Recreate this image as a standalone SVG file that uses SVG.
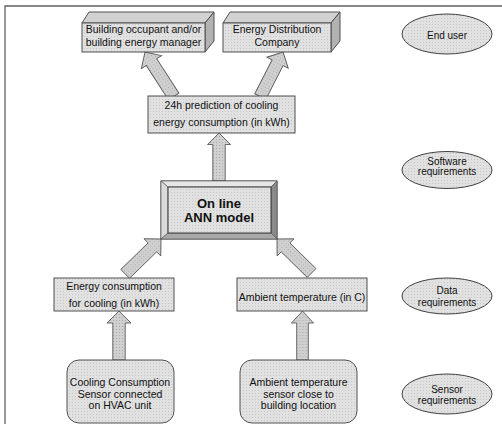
<svg xmlns="http://www.w3.org/2000/svg" width="502" height="424" viewBox="0 0 502 424">
  <style>
    text { font-family: "Liberation Sans", Arial, sans-serif; font-size: 10.5px; fill: #111; text-anchor: middle; }
    .small { font-size: 10px; }
    .bold { font-size: 13px; font-weight: bold; }
    .box { fill: url(#grain); stroke: #505050; stroke-width: 1; }
    .top { fill: #d2d2d2; stroke: #505050; stroke-width: 1; stroke-linejoin: round; }
    .side { fill: #b2b2b2; stroke: #505050; stroke-width: 1; stroke-linejoin: round; }
    .oval { fill: url(#grain); stroke: #404040; stroke-width: 1; }
    .arrow { fill: url(#grain-dark); stroke: #5a5a5a; stroke-width: 0.9; stroke-linejoin: miter; }
    .frame { stroke: #606060; stroke-width: 1.3; fill: none; }
  </style>
  <defs>
    <!-- fine dotted texture used for the shaded faces -->
    <pattern id="grain" width="3" height="3" patternUnits="userSpaceOnUse">
      <rect width="3" height="3" fill="#e1e1e1"/>
      <rect width="1" height="1" fill="#c6c6c6"/>
    </pattern>
    <pattern id="grain-dark" width="3" height="3" patternUnits="userSpaceOnUse">
      <rect width="3" height="3" fill="#d0d0d0"/>
      <rect width="1" height="1" fill="#ababab"/>
    </pattern>
  </defs>

  <rect width="502" height="424" fill="#ffffff"/>
  <!-- page frame -->
  <path class="frame" d="M5,424 V6 H502"/>

  <!-- block arrows: tip at local origin, pointing up -->
  <g id="connectors">
    <polygon class="arrow" transform="translate(145,52) rotate(-32.8)" points="0,0 12,12 6.2,12 6.2,53 -6.2,53 -6.2,12 -12,12"/>
    <polygon class="arrow" transform="translate(283,52) rotate(27.1)" points="0,0 12,12 6.2,12 6.2,50 -6.2,50 -6.2,12 -12,12"/>
    <polygon class="arrow" transform="translate(219,133)" points="0,0 11.5,11.5 6.2,11.5 6.2,48 -6.2,48 -6.2,11.5 -11.5,11.5"/>
    <polygon class="arrow" transform="translate(161,239) rotate(45.8)" points="0,0 12,12 6.2,12 6.2,50 -6.2,50 -6.2,12 -12,12"/>
    <polygon class="arrow" transform="translate(277,239) rotate(-45.5)" points="0,0 12,12 6.2,12 6.2,48.5 -6.2,48.5 -6.2,12 -12,12"/>
    <polygon class="arrow" transform="translate(119,311)" points="0,0 12,12 6.2,12 6.2,49 -6.2,49 -6.2,12 -12,12"/>
    <polygon class="arrow" transform="translate(302.5,311)" points="0,0 11,12 5.8,12 5.8,49 -5.8,49 -5.8,12 -11,12"/>
  </g>

  <!-- end users -->
  <g id="occupant">
    <polygon class="top" points="82,23 89,12 214,12 205,23"/>
    <polygon class="side" points="205,23 214,12 214,41 205,52"/>
    <rect class="box" x="82" y="23" width="123" height="29"/>
    <text x="143.5" y="32.5">Building occupant and/or</text>
    <text x="143.5" y="45.5">building energy manager</text>
  </g>
  <g id="utility">
    <polygon class="top" points="223,23 230,12 340,12 331,23"/>
    <polygon class="side" points="331,23 340,12 340,41 331,52"/>
    <rect class="box" x="223" y="23" width="108" height="29"/>
    <text x="277" y="32.5">Energy Distribution</text>
    <text x="277" y="45.5">Company</text>
  </g>

  <!-- model output -->
  <g id="prediction">
    <rect class="box" x="148" y="96" width="147" height="37"/>
    <text x="221.5" y="109">24h prediction of cooling</text>
    <text x="221.5" y="125.5">energy consumption  (in kWh)</text>
  </g>

  <!-- bevelled model block -->
  <g id="ann-model">
    <rect x="161" y="181" width="116" height="58" fill="#cfcfcf" stroke="#3a3a3a" stroke-width="1"/>
    <polygon points="161,181 277,181 271,187 168,187" fill="#e6e6e6" stroke="#505050" stroke-width="0.6"/>
    <polygon points="161,181 168,187 168,233 161,239" fill="#d9d9d9" stroke="#505050" stroke-width="0.6"/>
    <polygon points="277,181 271,187 271,233 277,239" fill="#8a8a8a" stroke="#505050" stroke-width="0.6"/>
    <polygon points="161,239 168,233 271,233 277,239" fill="#a9a9a9" stroke="#505050" stroke-width="0.6"/>
    <rect x="168" y="187" width="103" height="46" fill="url(#grain)" stroke="#3a3a3a" stroke-width="1"/>
    <text class="bold" x="219" y="207.5">On line</text>
    <text class="bold" x="219" y="221.5">ANN model</text>
  </g>

  <!-- input data -->
  <g id="energy-data">
    <rect class="box" x="54" y="278" width="120" height="33"/>
    <text x="114" y="289.5">Energy consumption</text>
    <text x="114" y="306.5">for cooling (in kWh)</text>
  </g>
  <g id="temperature-data">
    <rect class="box" x="237" y="278" width="130" height="33"/>
    <text x="302" y="301">Ambient temperature (in C)</text>
  </g>

  <!-- sensors -->
  <g id="cooling-sensor">
    <rect class="box" x="67" y="360" width="107" height="63" rx="12" ry="12"/>
    <text x="120" y="386">Cooling Consumption</text>
    <text x="120" y="397.5">Sensor connected</text>
    <text x="120" y="409">on HVAC unit</text>
  </g>
  <g id="temperature-sensor">
    <rect class="box" x="240" y="360" width="117" height="63" rx="12" ry="12"/>
    <text x="298.5" y="386">Ambient temperature</text>
    <text x="298.5" y="397.5">sensor close to</text>
    <text x="298.5" y="409">building location</text>
  </g>

  <!-- layer labels -->
  <g id="label-end-user">
    <ellipse class="oval" cx="447" cy="34" rx="45" ry="20"/>
    <text class="small" x="447" y="38.5">End user</text>
  </g>
  <g id="label-software">
    <ellipse class="oval" cx="447" cy="170" rx="45" ry="18.5"/>
    <text class="small" x="447" y="165">Software</text>
    <text class="small" x="447" y="175">requirements</text>
  </g>
  <g id="label-data">
    <ellipse class="oval" cx="447" cy="296" rx="45" ry="18"/>
    <text class="small" x="447" y="294">Data</text>
    <text class="small" x="447" y="305.5">requirements</text>
  </g>
  <g id="label-sensor">
    <ellipse class="oval" cx="447" cy="394" rx="45" ry="20"/>
    <text class="small" x="447" y="392.5">Sensor</text>
    <text class="small" x="447" y="403.5">requirements</text>
  </g>
</svg>
